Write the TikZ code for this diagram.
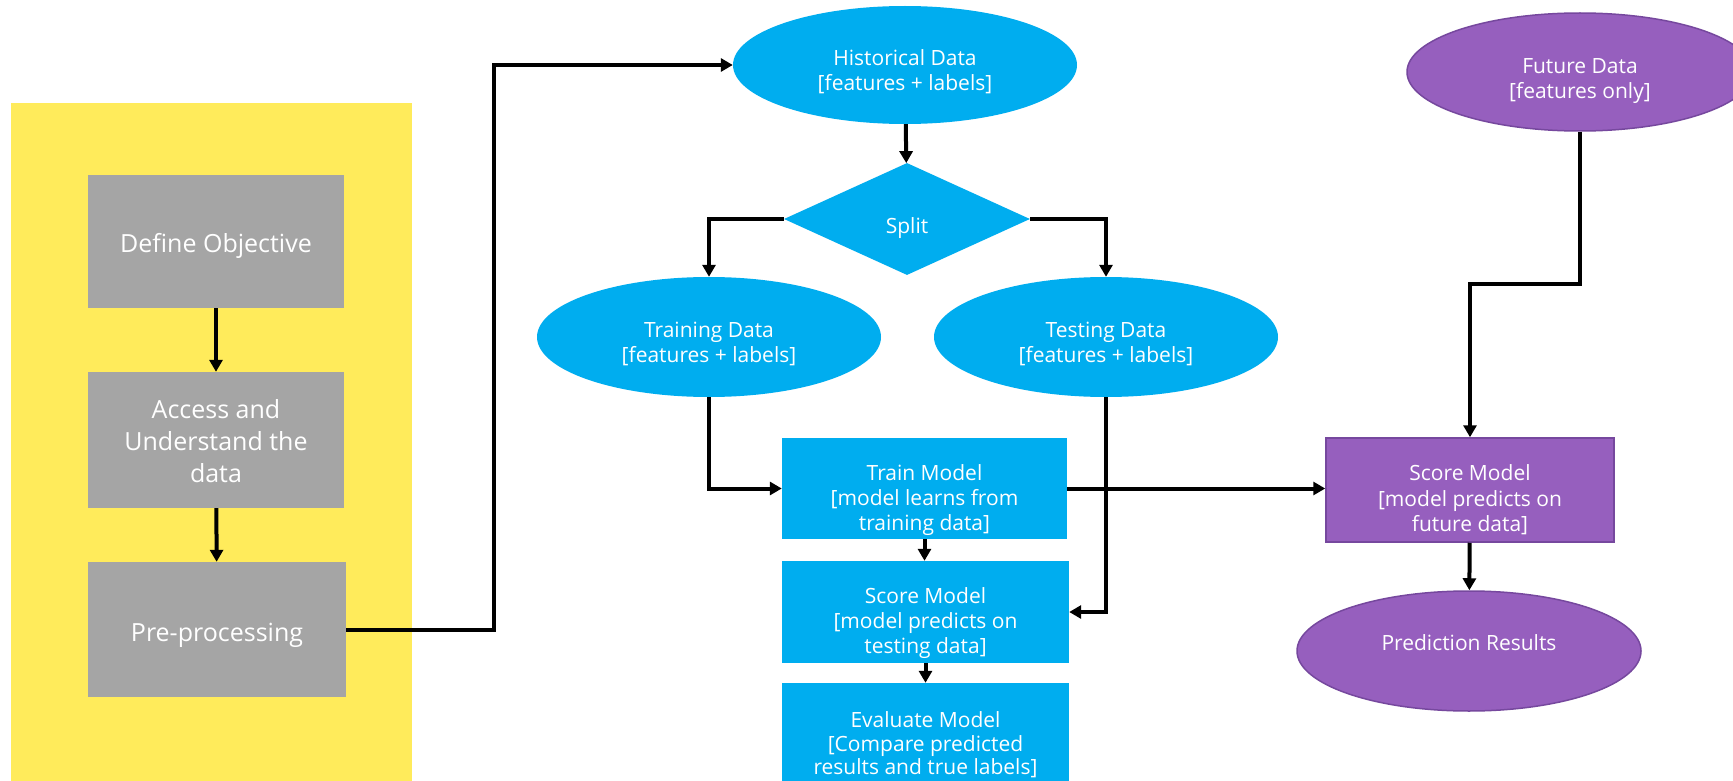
\documentclass[tikz,border=0pt]{standalone}
\usepackage{fontspec}
\setmainfont{Open Sans}
\usetikzlibrary{shapes.geometric,arrows.meta}
\definecolor{ybg}{RGB}{255,235,91}
\definecolor{gbox}{RGB}{165,165,165}
\definecolor{bbox}{RGB}{0,173,239}
\definecolor{pbox}{RGB}{150,95,190}
\definecolor{pline}{RGB}{118,72,158}
\begin{document}
\begin{tikzpicture}[x=1pt,y=-1pt,
  conn/.style={line width=4pt,-{Triangle[length=12pt,width=13pt]}},
  graybox/.style={rectangle,fill=gbox,minimum width=256pt,inner sep=0pt},
  bluebox/.style={rectangle,fill=bbox,inner sep=0pt},
  blueell/.style={ellipse,fill=bbox,inner sep=0pt,minimum width=344pt},
  purpbox/.style={rectangle,fill=pbox,draw=pline,line width=1.5pt,inner sep=0pt},
  purpell/.style={ellipse,fill=pbox,draw=pline,line width=1.5pt,inner sep=0pt},
  gtxt/.style={text=white,inner sep=0pt,align=center,font=\fontsize{25}{32}\selectfont},
  btxt/.style={text=white,inner sep=0pt,align=center,font=\fontsize{21}{25}\selectfont},
  ptxt/.style={text=white,inner sep=0pt,align=center,font=\fontsize{21}{25.5}\selectfont}]
\useasboundingbox (0,0) rectangle (1733,781);
\fill[white] (0,0) rectangle (1733,781);
% yellow panel
\fill[ybg] (11,103) rectangle (412,781);
% gray boxes
\node[graybox,minimum height=133pt] (def) at (216,241.5) {};
\node[gtxt] (defT) at ([yshift=-4pt]def.center) {Define Objective};
\node[graybox,minimum height=136pt] (acc) at (216,440) {};
\node[gtxt] (accT) at ([yshift=-1pt]acc.center) {Access and\\Understand the\\data};
\node[graybox,minimum width=258pt,minimum height=135pt] (pre) at (217,629.5) {};
\node[gtxt] (preT) at ([yshift=-6pt]pre.center) {Pre-processing};
% blue flow
\node[blueell,minimum height=118pt] (hist) at (905,65) {};
\node[btxt] (histT) at ([yshift=-7pt]hist.center) {Historical Data\\{[}features + labels{]}};
\node[diamond,fill=bbox,inner sep=0pt,minimum width=246pt,minimum height=112pt] (split) at (907,219) {};
\node[btxt] (splitT) at ([yshift=-9pt]split.center) {Split};
\node[blueell,minimum height=120pt] (trd) at (709,337) {};
\node[btxt] (trdT) at ([yshift=-7pt]trd.center) {Training Data\\{[}features + labels{]}};
\node[blueell,minimum height=120pt] (ted) at (1106,337) {};
\node[btxt] (tedT) at ([yshift=-7pt]ted.center) {Testing Data\\{[}features + labels{]}};
\node[bluebox,minimum width=285pt,minimum height=101pt] (trm) at (924.5,488.5) {};
\node[btxt] (trmT) at ([yshift=-12pt]trm.center) {Train Model\\{[}model learns from\\training data{]}};
\node[bluebox,minimum width=287pt,minimum height=102pt] (scm) at (925.5,612) {};
\node[btxt] (scmT) at ([yshift=-11pt]scm.center) {Score Model\\{[}model predicts on\\testing data{]}};
\node[bluebox,minimum width=287pt,minimum height=118pt] (evm) at (925.5,742) {};
\node[btxt,font=\fontsize{21}{23.5}\selectfont] (evmT) at ([yshift=-3pt]evm.center) {Evaluate Model\\{[}Compare predicted\\results and true labels{]}};
% purple flow
\node[purpell,minimum width=346pt,minimum height=118pt] (fut) at (1580,72) {};
\node[ptxt] (futT) at ([yshift=-9pt]fut.center) {Future Data\\{[}features only{]}};
\node[purpbox,minimum width=288pt,minimum height=104pt] (scp) at (1470,490) {};
\node[ptxt] (scpT) at ([yshift=-10pt]scp.center) {Score Model\\{[}model predicts on\\future data{]}};
\node[purpell,minimum width=344pt,minimum height=120pt] (pred) at (1469,651) {};
\node[ptxt] (predT) at ([yshift=8pt]pred.center) {Prediction Results};
% connectors
\draw[conn] (def) -- (acc);
\draw[conn] (acc) -- (pre);
\draw[conn] (pre.east) -- ++(148,0) |- (hist.west);
\draw[conn] (hist) -- (split);
\draw[conn] (split.west) -| (trd.north);
\draw[conn] (split.east) -| (ted.north);
\draw[conn] (trd.south) |- (trm.west);
\draw[conn] (ted.south) |- (scm.east);
\draw[conn] (trm.south) -- (trm.south |- scm.north);
\draw[conn] (scm) -- (evm);
\draw[conn] (trm.east) -- (trm.east -| scp.west);
\draw[conn] (fut.south) -- ++(0,152) -| (scp.north);
\draw[conn] (scp) -- (pred);
\end{tikzpicture}
\end{document}
